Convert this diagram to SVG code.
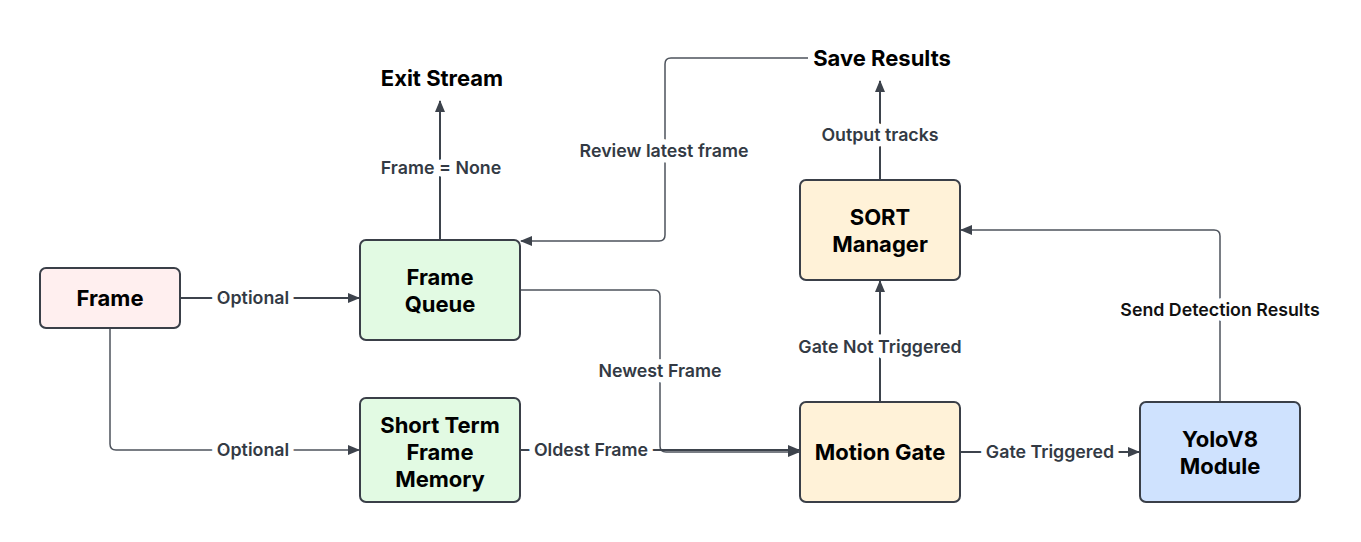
<svg xmlns="http://www.w3.org/2000/svg" width="1361" height="542" viewBox="0 0 1361 542">
<style>
.node{stroke:#3a3f48;stroke-width:2}
.nt{font-family:Inter,"Liberation Sans",sans-serif;font-weight:700;font-size:22px;fill:#000;text-anchor:middle}
.e{fill:none;stroke:#3d434c;stroke-width:2}
.e2{fill:none;stroke:#4d535c;stroke-width:1.5}
.lb{font-family:Inter,"Liberation Sans",sans-serif;font-weight:600;font-size:17.8px;fill:#333a44;text-anchor:middle;paint-order:stroke;stroke:#fff;stroke-width:11px;stroke-linejoin:round}
</style>
<defs>
<marker id="ah" viewBox="0 0 12 10" refX="11" refY="5" markerWidth="12" markerHeight="10" markerUnits="userSpaceOnUse" orient="auto">
<path d="M0,0 L12,5 L0,10 Z" fill="#3d434c"/>
</marker>
</defs>
<rect width="1361" height="542" fill="#fff"/>
<g id="connectors">
<path class="e" d="M180,298 H359" marker-end="url(#ah)"/>
<path class="e2" d="M110,328 V444 Q110,450 116,450 H359" marker-end="url(#ah)"/>
<path class="e" d="M440,240 V101" marker-end="url(#ah)"/>
<path class="e2" d="M808,58 H671 Q665,58 665,64 V235 Q665,241 659,241 H521" marker-end="url(#ah)"/>
<path class="e" d="M880,180 V81" marker-end="url(#ah)"/>
<path class="e2" d="M520,290 H654 Q660,290 660,296 V446 Q660,452 666,452 H799" marker-end="url(#ah)"/>
<path class="e" d="M520,450 H799" marker-end="url(#ah)"/>
<path class="e" d="M880,402 V281" marker-end="url(#ah)"/>
<path class="e" d="M960,452 H1139" marker-end="url(#ah)"/>
<path class="e2" d="M1220,402 V236 Q1220,230 1214,230 H961" marker-end="url(#ah)"/>
<text class="lb" x="253" y="304">Optional</text>
<text class="lb" x="253" y="456">Optional</text>
<text class="lb" x="441" y="174">Frame = None</text>
<text class="lb" x="664" y="157">Review latest frame</text>
<text class="lb" x="880" y="141">Output tracks</text>
<text class="lb" x="660" y="377">Newest Frame</text>
<text class="lb" x="591" y="456">Oldest Frame</text>
<text class="lb" x="880" y="353">Gate Not Triggered</text>
<text class="lb" x="1050" y="458">Gate Triggered</text>
<text class="lb" x="1220" y="316" style="fill:#111">Send Detection Results</text>
</g>
<g id="exit-stream"><text class="nt" x="442" y="86">Exit Stream</text></g>
<g id="save-results"><text class="nt" x="882" y="66">Save Results</text></g>
<g id="frame">
<rect class="node" x="40" y="268" width="140" height="60" rx="6" fill="#ffefef"/>
<text class="nt" x="110" y="306">Frame</text>
</g>
<g id="frame-queue">
<rect class="node" x="360" y="240" width="160" height="100" rx="6" fill="#e2fae3"/>
<text class="nt" x="440" y="285">Frame</text>
<text class="nt" x="440" y="312">Queue</text>
</g>
<g id="short-term-memory">
<rect class="node" x="360" y="398" width="160" height="104" rx="6" fill="#e2fae3"/>
<text class="nt" x="440" y="433">Short Term</text>
<text class="nt" x="440" y="460">Frame</text>
<text class="nt" x="440" y="487">Memory</text>
</g>
<g id="motion-gate">
<rect class="node" x="800" y="402" width="160" height="100" rx="6" fill="#fff2d8"/>
<text class="nt" x="880" y="460">Motion Gate</text>
</g>
<g id="sort-manager">
<rect class="node" x="800" y="180" width="160" height="100" rx="6" fill="#fff2d8"/>
<text class="nt" x="880" y="225">SORT</text>
<text class="nt" x="880" y="252">Manager</text>
</g>
<g id="yolov8">
<rect class="node" x="1140" y="402" width="160" height="100" rx="6" fill="#cfe2fe"/>
<text class="nt" x="1220" y="447">YoloV8</text>
<text class="nt" x="1220" y="474">Module</text>
</g>
</svg>
